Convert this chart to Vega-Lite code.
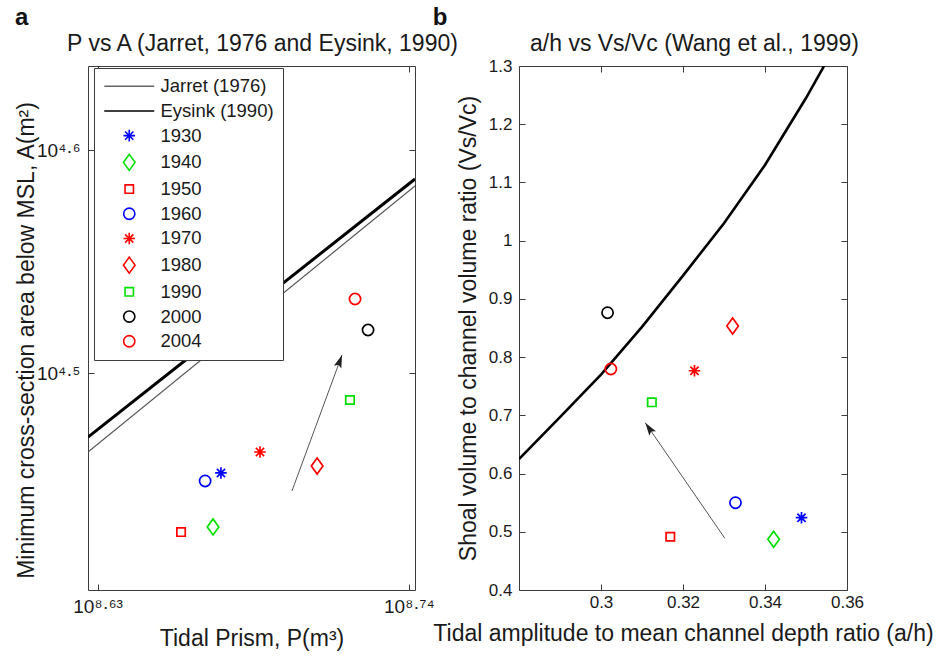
{
  "$schema": "https://vega.github.io/schema/vega-lite/v6.json",
  "background": "white",
  "padding": {"left": 14, "top": 5, "right": 5, "bottom": 5},
  "bounds": "flush",
  "spacing": 104,
  "config": {
    "font": "Liberation Sans",
    "view": {"stroke": "#3c3c3c", "strokeWidth": 1},
    "axis": {
      "domain": false, "grid": false, "ticks": true, "tickSize": -6, "tickColor": "#3c3c3c", "tickWidth": 1,
      "labelFont": "Liberation Sans", "labelFontSize": 17, "labelColor": "#1a1a1a", "labelFlush": false, "labelOverlap": false,
      "titleFont": "Liberation Sans", "titleFontSize": 23, "titleFontWeight": "normal", "titleColor": "#1a1a1a"
    }
  },
  "datasets": {
    "plines": [
      {"series": "Jarret (1976)", "log10_P": 8.6266, "log10_A": 4.4646},
      {"series": "Jarret (1976)", "log10_P": 8.7422, "log10_A": 4.5839},
      {"series": "Eysink (1990)", "log10_P": 8.6266, "log10_A": 4.4713},
      {"series": "Eysink (1990)", "log10_P": 8.7422, "log10_A": 4.5870}
    ],
    "lpoints": [
      {"series": "1930", "log10_P": 8.6736, "log10_A": 4.4552},
      {"series": "1940", "log10_P": 8.6708, "log10_A": 4.4310},
      {"series": "1950", "log10_P": 8.6595, "log10_A": 4.4287},
      {"series": "1960", "log10_P": 8.6680, "log10_A": 4.4516},
      {"series": "1970", "log10_P": 8.6874, "log10_A": 4.4646},
      {"series": "1980", "log10_P": 8.7076, "log10_A": 4.4583},
      {"series": "1990", "log10_P": 8.7192, "log10_A": 4.4879},
      {"series": "2000", "log10_P": 8.7256, "log10_A": 4.5193},
      {"series": "2004", "log10_P": 8.7210, "log10_A": 4.5332}
    ],
    "larrow": [
      {"end": "tail", "log10_P": 8.6987, "log10_A": 4.4471},
      {"end": "head", "log10_P": 8.7164, "log10_A": 4.5081}
    ],
    "rcurve": [
      {"ah": 0.28, "vsvc": 0.625},
      {"ah": 0.29, "vsvc": 0.697},
      {"ah": 0.30, "vsvc": 0.770},
      {"ah": 0.31, "vsvc": 0.852},
      {"ah": 0.32, "vsvc": 0.940},
      {"ah": 0.33, "vsvc": 1.030},
      {"ah": 0.34, "vsvc": 1.130},
      {"ah": 0.35, "vsvc": 1.245},
      {"ah": 0.36, "vsvc": 1.370}
    ],
    "rpoints": [
      {"series": "1930", "ah": 0.3489, "vsvc": 0.5242},
      {"series": "1940", "ah": 0.3421, "vsvc": 0.4871},
      {"series": "1950", "ah": 0.3169, "vsvc": 0.4915},
      {"series": "1960", "ah": 0.3328, "vsvc": 0.5499},
      {"series": "1970", "ah": 0.3228, "vsvc": 0.7766},
      {"series": "1980", "ah": 0.3321, "vsvc": 0.8534},
      {"series": "1990", "ah": 0.3124, "vsvc": 0.7224},
      {"series": "2000", "ah": 0.3016, "vsvc": 0.8763},
      {"series": "2004", "ah": 0.3024, "vsvc": 0.7796}
    ],
    "rarrow": [
      {"end": "tail", "ah": 0.3302, "vsvc": 0.4888},
      {"end": "head", "ah": 0.3108, "vsvc": 0.6873}
    ]
  },
  "resolve": {"scale": {"color": "independent", "shape": "independent"}},
  "hconcat": [
    {
      "width": 327,
      "height": 524,
      "title": {"text": "a", "anchor": "start", "frame": "bounds", "fontSize": 24, "fontWeight": "bold", "font": "Liberation Sans", "color": "#111111", "offset": 2},
      "resolve": {"axis": {"x": "independent", "y": "independent"}},
      "layer": [
        {
          "data": {"name": "plines"},
          "transform": [{"filter": "datum.series === 'Jarret (1976)'"}],
          "mark": {"type": "line", "color": "#555555", "strokeWidth": 1.2, "clip": true},
          "encoding": {
            "x": {"field": "log10_P", "type": "quantitative", "scale": {"domain": [8.6266, 8.7422], "zero": false, "nice": false},
                  "axis": {"orient": "top", "values": [8.63, 8.74], "labels": false, "title": "P vs A (Jarret, 1976 and Eysink, 1990)", "titleX": 174, "titleY": -16, "titleBaseline": "alphabetic", "titleAlign": "center"}},
            "y": {"field": "log10_A", "type": "quantitative", "scale": {"domain": [4.4027, 4.6377], "zero": false, "nice": false},
                  "axis": {"orient": "right", "values": [4.5, 4.6], "labels": false, "title": null}}
          }
        },
        {
          "data": {"name": "plines"},
          "transform": [{"filter": "datum.series === 'Eysink (1990)'"}],
          "mark": {"type": "line", "color": "#000000", "strokeWidth": 3, "clip": true},
          "encoding": {
            "x": {"field": "log10_P", "type": "quantitative", "axis": null},
            "y": {"field": "log10_A", "type": "quantitative", "axis": null}
          }
        },
        {
          "data": {"name": "larrow"},
          "mark": {"type": "line", "color": "#555555", "strokeWidth": 1},
          "encoding": {
            "x": {"field": "log10_P", "type": "quantitative", "axis": null},
            "y": {"field": "log10_A", "type": "quantitative", "axis": null}
          }
        },
        {
          "data": {"name": "larrow"},
          "transform": [{"filter": "datum.end === 'head'"}],
          "mark": {"type": "point", "shape": "M0,0L0.8,2.6L0,2.1L-0.8,2.6Z", "size": 100, "filled": true, "color": "#222222", "opacity": 1, "angle": 20},
          "encoding": {
            "x": {"field": "log10_P", "type": "quantitative", "axis": null},
            "y": {"field": "log10_A", "type": "quantitative", "axis": null}
          }
        },
        {
          "data": {"name": "lpoints"},
          "mark": {"type": "point", "filled": false, "size": 64, "strokeWidth": 1.7, "opacity": 1},
          "encoding": {
            "x": {"field": "log10_P", "type": "quantitative",
                  "axis": {"orient": "bottom", "values": [8.63, 8.74], "labelExpr": "datum.value < 8.7 ? '10⁸·⁶³' : '10⁸·⁷⁴'", "labelFontSize": 19, "labelPadding": 13, "title": "Tidal Prism, P(m³)", "titleY": 55, "titleBaseline": "alphabetic"}},
            "y": {"field": "log10_A", "type": "quantitative",
                  "axis": {"orient": "left", "values": [4.5, 4.6], "labelExpr": "datum.value < 4.55 ? '10⁴·⁵' : '10⁴·⁶'", "labelFontSize": 19, "labelPadding": 14, "title": "Minimum cross-section area below MSL, A(m²)", "titleX": -55, "titleY": 274, "titleBaseline": "alphabetic"}},
            "color": {"field": "series", "type": "nominal",
                      "scale": {"domain": ["Jarret (1976)", "Eysink (1990)", "1930", "1940", "1950", "1960", "1970", "1980", "1990", "2000", "2004"],
                                "range": ["#666666", "#000000", "#0000ff", "#00e000", "#ff0000", "#0000ff", "#ff0000", "#ff0000", "#00e000", "#000000", "#ff0000"]},
                      "legend": {"orient": "none", "legendX": 6, "legendY": 2, "title": null, "padding": 9, "strokeColor": "#3c3c3c", "fillColor": "white", "cornerRadius": 0,
                                 "labelFont": "Liberation Sans", "labelFontSize": 18.5, "labelColor": "#1a1a1a", "labelLimit": 300,
                                 "symbolOffset": 17, "labelOffset": 22, "rowPadding": 5.7, "symbolSize": 64, "symbolStrokeWidth": 1.6,
                                 "encode": {"symbols": {"update": {"strokeWidth": {"signal": "datum.value === 'Eysink (1990)' ? 3 : (datum.value === 'Jarret (1976)' ? 1.2 : 1.6)"}}}}}},
            "shape": {"field": "series", "type": "nominal",
                      "scale": {"domain": ["Jarret (1976)", "Eysink (1990)", "1930", "1940", "1950", "1960", "1970", "1980", "1990", "2000", "2004"],
                                "range": ["M-6.25,0L6.25,0", "M-6.25,0L6.25,0",
                                          "M0,-1.45L0,1.45M-1.45,0L1.45,0M-1.03,-1.03L1.03,1.03M-1.03,1.03L1.03,-1.03",
                                          "M0,-2L1.45,0L0,2L-1.45,0Z",
                                          "M-1.05,-1.05L1.05,-1.05L1.05,1.05L-1.05,1.05Z",
                                          "M1.4,0A1.4,1.4,0,1,1,-1.4,0A1.4,1.4,0,1,1,1.4,0Z",
                                          "M0,-1.45L0,1.45M-1.45,0L1.45,0M-1.03,-1.03L1.03,1.03M-1.03,1.03L1.03,-1.03",
                                          "M0,-2L1.45,0L0,2L-1.45,0Z",
                                          "M-1.05,-1.05L1.05,-1.05L1.05,1.05L-1.05,1.05Z",
                                          "M1.4,0A1.4,1.4,0,1,1,-1.4,0A1.4,1.4,0,1,1,1.4,0Z",
                                          "M1.4,0A1.4,1.4,0,1,1,-1.4,0A1.4,1.4,0,1,1,1.4,0Z"]}}
          }
        }
      ]
    },
    {
      "width": 328,
      "height": 524,
      "title": {"text": "b", "anchor": "start", "frame": "bounds", "fontSize": 24, "fontWeight": "bold", "font": "Liberation Sans", "color": "#111111", "offset": 2},
      "resolve": {"axis": {"x": "independent", "y": "independent"}},
      "layer": [
        {
          "data": {"name": "rcurve"},
          "mark": {"type": "line", "color": "#000000", "strokeWidth": 2.6, "clip": true},
          "encoding": {
            "x": {"field": "ah", "type": "quantitative", "scale": {"domain": [0.28, 0.36], "zero": false, "nice": false},
                  "axis": {"orient": "top", "values": [0.3, 0.32, 0.34, 0.36], "labels": false, "title": "a/h vs Vs/Vc (Wang et al., 1999)", "titleX": 175, "titleY": -16, "titleBaseline": "alphabetic", "titleAlign": "center"}},
            "y": {"field": "vsvc", "type": "quantitative", "scale": {"domain": [0.4, 1.3], "zero": false, "nice": false},
                  "axis": {"orient": "right", "values": [0.4, 0.5, 0.6, 0.7, 0.8, 0.9, 1, 1.1, 1.2, 1.3], "labels": false, "title": null}}
          }
        },
        {
          "data": {"name": "rarrow"},
          "mark": {"type": "line", "color": "#555555", "strokeWidth": 1},
          "encoding": {
            "x": {"field": "ah", "type": "quantitative", "axis": null},
            "y": {"field": "vsvc", "type": "quantitative", "axis": null}
          }
        },
        {
          "data": {"name": "rarrow"},
          "transform": [{"filter": "datum.end === 'head'"}],
          "mark": {"type": "point", "shape": "M0,0L0.8,2.6L0,2.1L-0.8,2.6Z", "size": 100, "filled": true, "color": "#222222", "opacity": 1, "angle": -34.5},
          "encoding": {
            "x": {"field": "ah", "type": "quantitative", "axis": null},
            "y": {"field": "vsvc", "type": "quantitative", "axis": null}
          }
        },
        {
          "data": {"name": "rpoints"},
          "mark": {"type": "point", "filled": false, "size": 64, "strokeWidth": 1.7, "opacity": 1},
          "encoding": {
            "x": {"field": "ah", "type": "quantitative",
                  "axis": {"orient": "bottom", "values": [0.3, 0.32, 0.34, 0.36], "format": "~g", "labelPadding": 10, "title": "Tidal amplitude to mean channel depth ratio (a/h)", "titleY": 50, "titleBaseline": "alphabetic"}},
            "y": {"field": "vsvc", "type": "quantitative",
                  "axis": {"orient": "left", "values": [0.4, 0.5, 0.6, 0.7, 0.8, 0.9, 1, 1.1, 1.2, 1.3], "format": "~g", "labelPadding": 13, "title": "Shoal volume to channel volume ratio (Vs/Vc)", "titleX": -44, "titleBaseline": "alphabetic"}},
            "color": {"field": "series", "type": "nominal", "legend": null,
                      "scale": {"domain": ["Jarret (1976)", "Eysink (1990)", "1930", "1940", "1950", "1960", "1970", "1980", "1990", "2000", "2004"],
                                "range": ["#666666", "#000000", "#0000ff", "#00e000", "#ff0000", "#0000ff", "#ff0000", "#ff0000", "#00e000", "#000000", "#ff0000"]}},
            "shape": {"field": "series", "type": "nominal", "legend": null,
                      "scale": {"domain": ["Jarret (1976)", "Eysink (1990)", "1930", "1940", "1950", "1960", "1970", "1980", "1990", "2000", "2004"],
                                "range": ["M-6.25,0L6.25,0", "M-6.25,0L6.25,0",
                                          "M0,-1.45L0,1.45M-1.45,0L1.45,0M-1.03,-1.03L1.03,1.03M-1.03,1.03L1.03,-1.03",
                                          "M0,-2L1.45,0L0,2L-1.45,0Z",
                                          "M-1.05,-1.05L1.05,-1.05L1.05,1.05L-1.05,1.05Z",
                                          "M1.4,0A1.4,1.4,0,1,1,-1.4,0A1.4,1.4,0,1,1,1.4,0Z",
                                          "M0,-1.45L0,1.45M-1.45,0L1.45,0M-1.03,-1.03L1.03,1.03M-1.03,1.03L1.03,-1.03",
                                          "M0,-2L1.45,0L0,2L-1.45,0Z",
                                          "M-1.05,-1.05L1.05,-1.05L1.05,1.05L-1.05,1.05Z",
                                          "M1.4,0A1.4,1.4,0,1,1,-1.4,0A1.4,1.4,0,1,1,1.4,0Z",
                                          "M1.4,0A1.4,1.4,0,1,1,-1.4,0A1.4,1.4,0,1,1,1.4,0Z"]}}
          }
        }
      ]
    }
  ]
}
